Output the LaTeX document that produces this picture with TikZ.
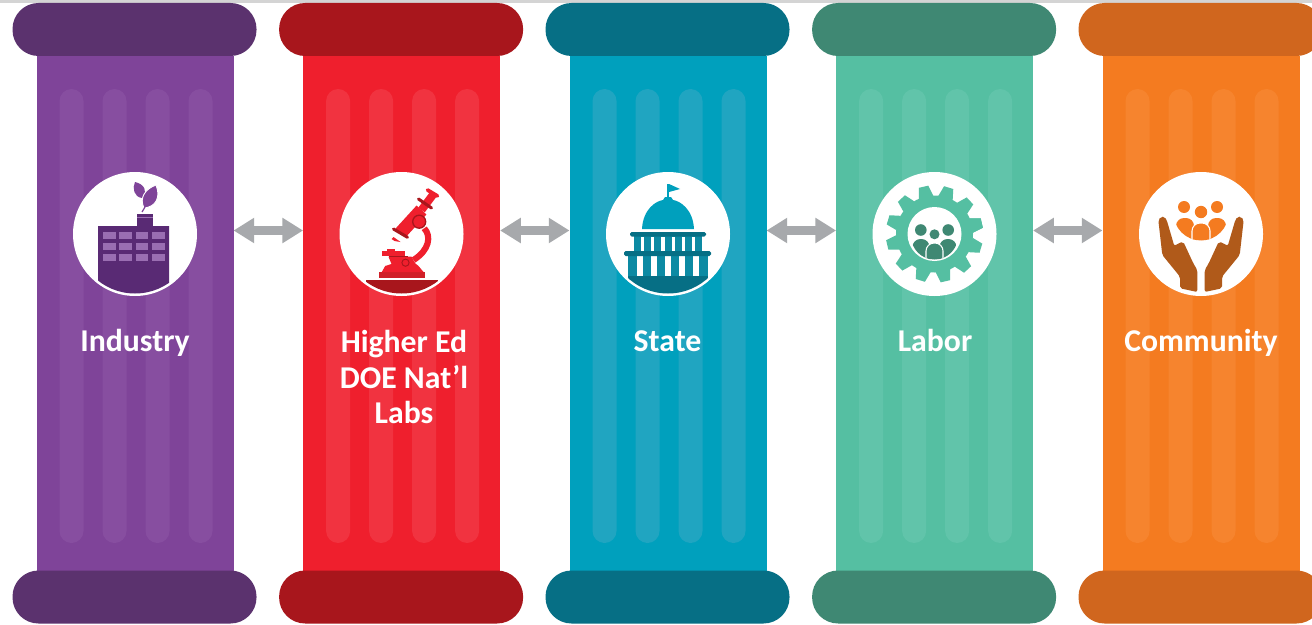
\documentclass[tikz,border=0pt]{standalone}
\usepackage{fontspec}
\setmainfont{Carlito}
\usetikzlibrary{arrows.meta}
\definecolor{purS}{HTML}{7F4499}\definecolor{purC}{HTML}{5B326E}\definecolor{purF}{HTML}{874EA0}\definecolor{purW}{HTML}{9A6EB2}\definecolor{purB}{HTML}{592A74}
\definecolor{redS}{HTML}{EF1F2D}\definecolor{redC}{HTML}{A8161C}\definecolor{redF}{HTML}{F13340}\definecolor{redM}{HTML}{D01F28}
\definecolor{teaS}{HTML}{00A0BD}\definecolor{teaC}{HTML}{066F85}\definecolor{teaF}{HTML}{20A5C1}\definecolor{teaM}{HTML}{0C8AA3}
\definecolor{greS}{HTML}{55BFA2}\definecolor{greC}{HTML}{3F8873}\definecolor{greF}{HTML}{61C4AA}
\definecolor{oraS}{HTML}{F47B20}\definecolor{oraC}{HTML}{D0661E}\definecolor{oraF}{HTML}{F6842E}\definecolor{oraH}{HTML}{B05A1A}
\definecolor{arrowgray}{HTML}{A7A9AC}\definecolor{topline}{HTML}{D4D4D4}
\tikzset{
  x=0.75pt,y=-0.75pt,
  shaftbox/.style={rectangle,inner sep=0,outer sep=0,minimum width=147.75pt,minimum height=386.25pt},
  capbox/.style={rectangle,rounded corners=19.5pt,inner sep=0,outer sep=0,minimum width=183pt,minimum height=39.75pt},
  flutebox/.style={rectangle,rounded corners=9pt,inner sep=0,outer sep=0,minimum width=18pt,minimum height=340.5pt},
  disc/.style={circle,fill=white,inner sep=0,outer sep=0,minimum size=93pt},
  pillartext/.style={text=white,font=\fontsize{23.8}{26.6}\selectfont\bfseries,align=center,inner sep=0},
  linkarrow/.style={draw=arrowgray,line width=6.5pt,{Triangle[length=15.5pt,width=18pt]}-{Triangle[length=15.5pt,width=18pt]}},
}
\newcommand{\pillarbody}[6]{%
  \node[shaftbox,fill=#3] (shaft#1) at (#2,313.5) {};
  \foreach \dx/\fn in {-64/a,-21/b,22/c,65/d}{
    \node[flutebox,fill=#5] (flute#1\fn) at (#2+\dx+0.5,316) {};
  }
  \node[capbox,fill=#4] (top#1) at (#2-0.5,29.5) {};
  \node[capbox,fill=#4] (bottom#1) at (#2-0.5,597) {};
  \node[disc] (disc#1) at (#6,234) {};
}
\begin{document}
\begin{tikzpicture}
\useasboundingbox (0,0) rectangle (1312,624);
\fill[white] (0,0) rectangle (1312,624);
\fill[topline] (0,0) rectangle (1312,3);

\pillarbody{1}{135}{purS}{purC}{purF}{135}
\pillarbody{2}{401.6}{redS}{redC}{redF}{401.5}
\pillarbody{3}{668}{teaS}{teaC}{teaF}{668}
\pillarbody{4}{934.6}{greS}{greC}{greF}{934.5}
\pillarbody{5}{1201}{oraS}{oraC}{oraF}{1201}

% arrows
\coordinate (ay) at (0,230.5);
\draw[linkarrow] (shaft1.east |- ay) -- (shaft2.west |- ay);
\draw[linkarrow] (shaft2.east |- ay) -- (shaft3.west |- ay);
\draw[linkarrow] (shaft3.east |- ay) -- (shaft4.west |- ay);
\draw[linkarrow] (shaft4.east |- ay) -- (shaft5.west |- ay);

% labels
\node[pillartext,anchor=base] (lab1) at (135,351) {Industry};
\node[pillartext] (lab2) at (404,377) {Higher Ed\\DOE Nat’l\\Labs};
\node[pillartext,anchor=base] (lab3) at (667.5,351) {State};
\node[pillartext,anchor=base] (lab4) at (935,351) {Labor};
\node[pillartext,anchor=base] (lab5) at (1201,351) {Community};

% Industry icon
\begin{scope}[shift={(135,234)}]
  \begin{scope}
    \clip (0,0) circle (59.5);
    \fill[purB] (-37,-8) -- (34,-8) -- (34,46) -- (34,70) -- (-37,70) -- (-37,46) -- cycle;
  \end{scope}
  \fill[purB] (2.3,-20) rectangle (18,-8);
  \fill[purW] (2.3,-17) rectangle (18,-16);
  \foreach \yy in {-2.3,9,20}{
    \foreach \xx in {-32,-16,0.7,17}{
      \fill[purW] (\xx,\yy) rectangle ++(12.5,7);
    }
  }
  \fill[purS] (7,-36) .. controls (-1,-37) and (-3,-46) .. (0,-52) .. controls (9,-50) and (13,-43) .. (8,-36) -- cycle;
  \draw[purS,fill=purS,draw=white,line width=0.7pt] (9,-26) .. controls (4,-36) and (10,-45) .. (21,-49) .. controls (26,-37) and (21,-27) .. (9,-26) -- cycle;
  \draw[purS,line width=0.9pt] (7,-22) -- (10,-27);
\end{scope}

% Microscope icon
\begin{scope}[shift={(401.5,234)}]
  \begin{scope}
    \clip (0,0) circle (59.5);
    \fill[redC] (-36,45.5) rectangle (36,70);
  \end{scope}
  \fill[redM] (-23,38) rectangle (23.7,44.3);
  \draw[redS,line width=4.6pt] (22.7,-5.7) .. controls (30,2) and (28,16) .. (12,26);
  \fill[redS] (-13,22.7) -- (10,22.7) -- (13.7,29.3) -- (17,32) -- (22,38) -- (-19.7,38) -- (-16.3,32) -- (-10,30) -- cycle;
  \fill[redS] (-20,16.7) rectangle (3.7,22);
  \fill[redS] (-15,14.7) rectangle (-6.3,16.7);
  \fill[redC] (-13,22) rectangle (6,23);
  \draw[redC,fill=redS,line width=0.7pt] (4,28.7) circle (3.6);
  \draw[redS,line width=10pt] (-1,-1) -- (20,-24);
  \draw[redS,line width=6pt] (20,-24) -- (32,-40);
  \fill[redS] (-8,3) -- (-1,8) -- (-7,7) -- (-10,5) -- cycle;
  \draw[redC,line width=2.3pt,line cap=round] (-8,-5) -- (6,3.3);
  \draw[redC,line width=2.3pt,line cap=round] (17,-35) -- (30,-26);
  \draw[redS,line width=2.8pt,line cap=round] (26,-44) -- (36,-38);
  \draw[redC,fill=redS,line width=1pt] (17.7,-12.3) circle (6.5);
\end{scope}

% Capitol icon
\begin{scope}[shift={(668,234)}]
  \begin{scope}
    \clip (0,0) circle (59.5);
    \fill[teaC] (-40,42) rectangle (40,70);
  \end{scope}
  \fill[teaM] (-34,2) rectangle (34,17);
  \foreach \i in {0,...,5}{ \fill[white] (-27.4+\i*10.3,2.5) rectangle ++(3.3,14.5); }
  \fill[teaM] (-40,22) rectangle (40,42);
  \foreach \xx in {-28,-14,0,14,28}{ \fill[white] (\xx-2.6,22) rectangle (\xx+2.6,42); }
  \fill[teaS] (-26,-5) .. controls (-25,-25) and (-12,-33) .. (-5,-34) -- (-3,-37) -- (3,-37) -- (5,-34) .. controls (12,-33) and (25,-25) .. (26,-5) -- cycle;
  \draw[teaS,line width=0.9pt] (0,-50) -- (0,-36);
  \fill[teaS] (1,-50) -- (12,-45) -- (1,-42) -- cycle;
  \fill[teaC,rounded corners=1.2pt] (-38,-2) rectangle (38,2.5);
  \fill[teaC,rounded corners=1.2pt] (-44,17) rectangle (43,22);
\end{scope}

% Gear icon
\begin{scope}[shift={(934.5,234)}]
  \fill[greS] (0,0) circle (38.5);
  \foreach \a in {13,43,...,373}{
    \fill[greS,rotate=\a] (37.5,-7.5) -- (48.5,-4.8) -- (48.5,4.8) -- (37.5,7.5) -- cycle;
  }
  \fill[white] (0,0) circle (27);
  \fill[greC] (-13.7,-4) circle (5.8);
  \fill[greC] (13.7,-4) circle (5.8);
  \fill[greC] (0,0.3) circle (5);
  \begin{scope}
    \clip (0,2) circle (23.5);
    \fill[greC,rounded corners=6pt] (-22,5) rectangle (-5,45);
    \fill[greC,rounded corners=6pt] (5,5) rectangle (22,45);
    \draw[fill=greC,rounded corners=6pt,draw=white,line width=0.8pt] (-8.5,9) rectangle (8.5,45);
  \end{scope}
\end{scope}

% Community icon
\begin{scope}[shift={(1201,234)}]
  \fill[oraS] (-17,-27) circle (6);
  \fill[oraS] (16,-27) circle (6);
  \fill[oraS] (0,-22) circle (6.2);
  \begin{scope}
    \clip (0,-21) circle (27.5);
    \fill[oraS,rounded corners=6pt] (-25,-16) rectangle (-7,25);
    \fill[oraS,rounded corners=6pt] (7,-16) rectangle (25,25);
    \draw[fill=oraS,draw=white,line width=0.8pt,rounded corners=6pt] (-9,-11) rectangle (9,25);
  \end{scope}
  \foreach \sx in {1,-1}{
    \begin{scope}[xscale=\sx]
      \fill[oraH,rounded corners=1.5pt] (-42.7,-14) -- (-40,-17.3) -- (-36.5,-17.3) -- (-34.3,-14) -- (-26.7,12) -- (-22,9) -- (-17.7,7.7) -- (-7.7,29.3) -- (-3.7,36) -- (-3.7,58) -- (-21,54.3) -- (-21,42.7) -- (-38.7,21) -- cycle;
    \end{scope}
  }
\end{scope}
\end{tikzpicture}
\end{document}
